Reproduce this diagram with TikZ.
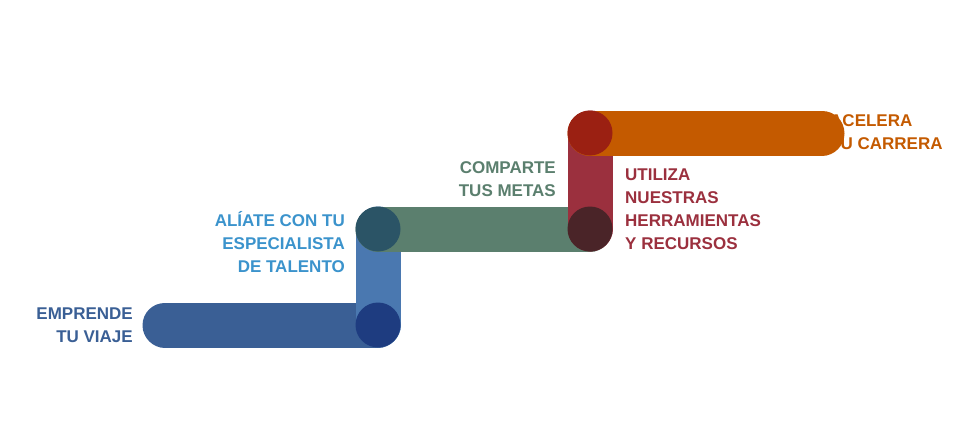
\documentclass[tikz,border=0pt]{standalone}
\usepackage{fontspec}
\setmainfont{Liberation Sans}
\usepackage{tikz}

\definecolor{cBlue}{HTML}{3A5F95}
\definecolor{cBlueUp}{HTML}{4A78B0}
\definecolor{cBlueDot}{HTML}{1E3C80}
\definecolor{cSky}{HTML}{3B93CC}
\definecolor{cGreen}{HTML}{5B7F6E}
\definecolor{cGreenDot}{HTML}{2B5466}
\definecolor{cRed}{HTML}{9B303E}
\definecolor{cRedDot}{HTML}{4A2428}
\definecolor{cRust}{HTML}{9B2012}
\definecolor{cOrange}{HTML}{C45A00}

\tikzset{
  bar/.style={line width=45pt, line cap=round},
  dot/.style={circle, minimum size=45pt, inner sep=0pt},
  lbl/.style={font=\bfseries\fontsize{17}{23}\selectfont, inner sep=0pt}
}

\begin{document}
\begin{tikzpicture}[x=1pt, y=-1pt]

  \useasboundingbox (0,0) rectangle (977,436);

  \coordinate (s1) at (165,325);
  \coordinate (j1) at (378,325);
  \coordinate (j2) at (378,229);
  \coordinate (j3) at (590,229);
  \coordinate (j4) at (590,133);
  \coordinate (s5) at (822,133);

  \draw [bar, cBlue] (s1) -- (j1);
  \draw [bar, cBlueUp] (j1) -- (j2);
  \draw [bar, cGreen] (j2) -- (j3);
  \draw [bar, cRed] (j3) -- (j4);
  \draw [bar, cOrange] (j4) -- (s5);

  \node [dot, fill=cBlueDot] (d1) at (j1) {};
  \node [dot, fill=cGreenDot] (d2) at (j2) {};
  \node [dot, fill=cRedDot] (d3) at (j3) {};
  \node [dot, fill=cRust] (d4) at (j4) {};

  \node [lbl, cBlue, align=right, anchor=east] (t1) at (133,325) {EMPRENDE\\TU VIAJE};
  \node [lbl, cSky, align=right, anchor=east] (t2) at (345,242) {ALÍATE CON TU\\ESPECIALISTA\\DE TALENTO};
  \node [lbl, cGreen, align=right, anchor=east] (t3) at (556,179) {COMPARTE\\TUS METAS};
  \node [lbl, cRed, align=left, anchor=west] (t4) at (625,209) {UTILIZA\\NUESTRAS\\HERRAMIENTAS\\Y RECURSOS};
  \node [lbl, cOrange, align=left, anchor=west] (t5) at (830,132) {ACELERA\\TU CARRERA};

\end{tikzpicture}
\end{document}
